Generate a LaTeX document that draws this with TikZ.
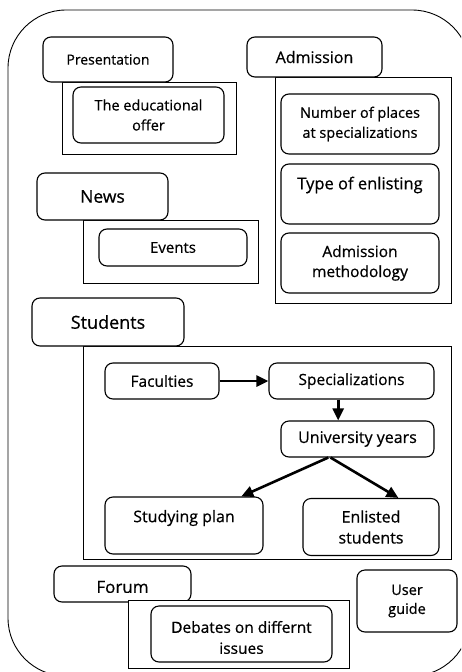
\documentclass[tikz,border=0pt]{standalone}
\usepackage{fontspec}
\setmainfont{Open Sans}[FakeBold=0.6]
\usetikzlibrary{arrows.meta,calc}
\begin{document}
\begin{tikzpicture}[x=1pt,y=-1pt,
  rbox/.style={draw, line width=1.1pt, rounded corners=8pt, inner sep=0pt, align=center, fill=white},
  cbox/.style={draw, line width=1pt, fill=white, inner sep=0pt},
  txt/.style={inner sep=0pt, align=center, font=\fontsize{14}{20}\selectfont},
  arr/.style={line width=2.6pt, -{Triangle[length=12pt,width=11pt]}}]
\useasboundingbox (0,0) rectangle (461,672);
\clip (0,0) rectangle (461,672);
% outer frame
\draw[line width=0.9pt, rounded corners=58pt] (8,10) rectangle (470,676);
% container rectangles
\node[cbox, minimum width=174pt, minimum height=72pt] (presC) at (149,118) {};
\node[cbox, minimum width=176pt, minimum height=226pt] (admC) at (363,190) {};
\node[cbox, minimum width=175pt, minimum height=63pt] (newsC) at (170.5,251.5) {};
\node[cbox, minimum width=368pt, minimum height=213pt] (studC) at (267,452.5) {};
% headers
\node[rbox, minimum width=130pt, minimum height=45pt, font=\fontsize{14}{16}\selectfont] (pres) at (108,59.5) {Presentation};
\node[rbox, minimum width=135pt, minimum height=40pt, font=\fontsize{16}{18}\selectfont] (adm) at (314.5,57) {Admission};
\node[rbox, minimum width=131pt, minimum height=47pt, font=\fontsize{17.5}{18}\selectfont] (news) at (102.5,196.5) {News};
\node[rbox, minimum width=152pt, minimum height=48pt, font=\fontsize{18}{18}\selectfont] (stud) at (108,322) {Students};
% inner boxes
\node[rbox, minimum width=151pt, minimum height=56pt, font=\fontsize{14.5}{20}\selectfont] (edu) at (148.5,115) {The educational\\offer};
\node[rbox, minimum width=158pt, minimum height=60pt, font=\fontsize{14.5}{20}\selectfont] (nump) at (360,124) {Number of places\\at specializations};
\node[rbox, minimum width=158pt, minimum height=60pt] (type) at (360,194) {};
\node[txt, font=\fontsize{16.5}{18}\selectfont] (typet) at (360,185) {Type of enlisting};
\node[rbox, minimum width=158pt, minimum height=60pt, font=\fontsize{15.5}{20}\selectfont] (meth) at (360,263) {Admission\\methodology};
\node[rbox, minimum width=148pt, minimum height=37pt, font=\fontsize{15}{18}\selectfont] (events) at (173,247.5) {Events};
\node[rbox, minimum width=114pt, minimum height=36pt, font=\fontsize{15.5}{18}\selectfont] (fac) at (162,381) {Faculties};
\node[rbox, minimum width=165pt, minimum height=36pt, font=\fontsize{15.5}{18}\selectfont] (spec) at (351.5,381) {Specializations};
\node[rbox, minimum width=153pt, minimum height=36pt, font=\fontsize{16}{18}\selectfont] (uy) at (357.5,439) {University years};
\node[rbox, minimum width=158pt, minimum height=57pt] (sp) at (184,525.5) {};
\node[txt, font=\fontsize{16}{18}\selectfont] (spt) at (184,518) {Studying plan};
\node[rbox, minimum width=136pt, minimum height=57pt, font=\fontsize{16}{21}\selectfont] (en) at (371,527) {Enlisted\\students};
% arrows
\coordinate (uyA) at ($(uy.south west)!0.31!(uy.south east)$);
\coordinate (uyB) at ($(uy.south west)!0.325!(uy.south east)$);
\coordinate (spN) at ($(sp.north west)!0.86!(sp.north east)$);
\coordinate (enN) at ($(en.north west)!0.70!(en.north east)$);
\coordinate (specS) at ($(spec.south west)!0.42!(spec.south east)$);
\draw[arr] (fac.east) -- (spec.west);
\draw[arr] (specS) -- (specS |- uy.north);
\draw[arr] (uyA) -- (spN);
\draw[arr] (uyB) -- (enN);
% forum
\node[rbox, minimum width=137pt, minimum height=36pt] (forum) at (122.5,584) {};
\begin{scope}
\clip (60,570) rectangle (185,592.5);
\node[txt, font=\fontsize{17}{18}\selectfont] (forumt) at (122.5,587) {Forum};
\end{scope}
\node[cbox, minimum width=221pt, minimum height=68pt] (debC) at (238.5,634) {};
\node[rbox, minimum width=181pt, minimum height=56pt] (deb) at (241.5,634) {};
\begin{scope}
\clip (140,600) rectangle (340,653);
\node[txt, font=\fontsize{15.5}{21}\selectfont] (debt) at (241.5,637.5) {Debates on differnt\\issues};
\end{scope}
% user guide
\node[rbox, minimum width=100pt, minimum height=62pt, font=\fontsize{14.5}{19}\selectfont] (ug) at (407,601) {User\\guide};
\end{tikzpicture}
\end{document}
